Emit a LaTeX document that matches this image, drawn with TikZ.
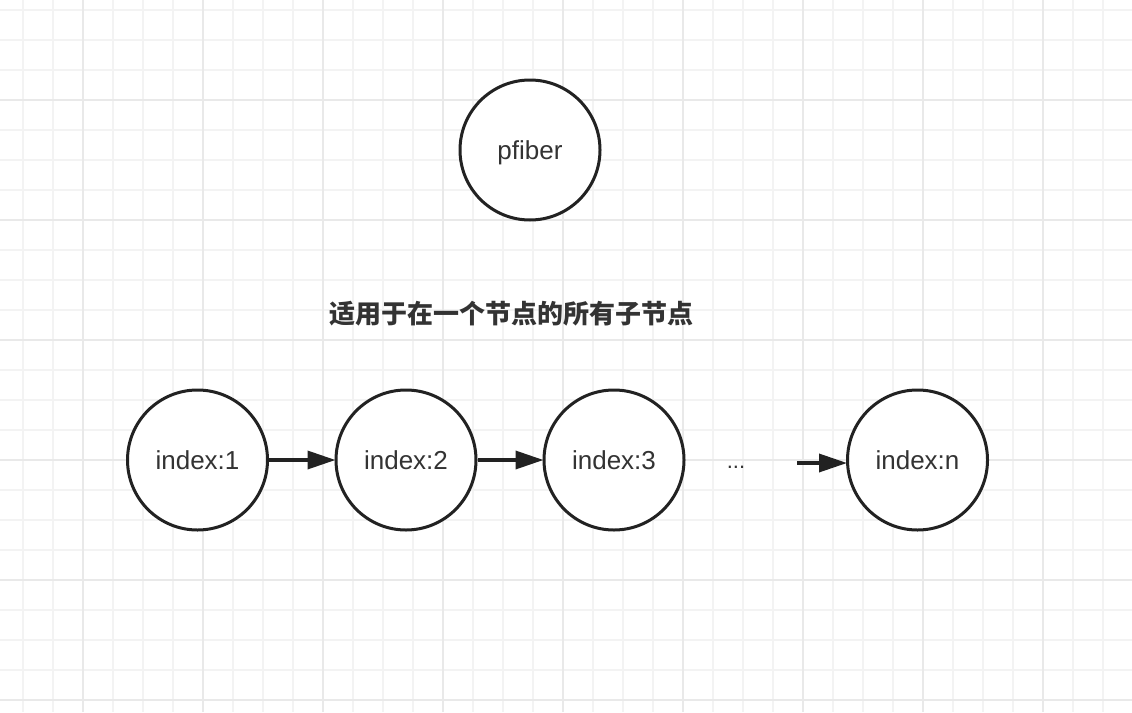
\documentclass[tikz,border=0pt]{standalone}
\usepackage{fontspec}
\setmainfont{Liberation Sans}
\newfontfamily\cjk{Noto Sans CJK SC}
\usetikzlibrary{arrows.meta}
\definecolor{strokec}{HTML}{222222}
\definecolor{textc}{HTML}{333333}
\definecolor{gridminor}{HTML}{F3F3F3}
\definecolor{gridmajor}{HTML}{E9E9E9}
\tikzset{
  ring/.style={circle, draw=strokec, line width=3pt, fill=white, minimum size=140pt, inner sep=0pt, text=textc, font=\fontsize{26}{30}\selectfont, text height=18.6pt, text depth=0pt},
  link/.style={draw=strokec, line width=3.5pt, -{Triangle[length=28pt,width=18pt]}, shorten >=-1pt},
  minorline/.style={gridminor, line width=1.6pt},
  majorline/.style={gridmajor, line width=1.6pt},
}
\begin{document}
\begin{tikzpicture}[x=1pt,y=-1pt]
\useasboundingbox (0,0) rectangle (1132,712);
\fill[white] (0,0) rectangle (1132,712);
% grid
\foreach \gx in {0,...,37} { \draw[minorline] (22.7+30*\gx,0) -- (22.7+30*\gx,712); }
\foreach \gy in {0,...,23} { \draw[minorline] (0,10+30*\gy) -- (1132,10+30*\gy); }
\foreach \gx in {0,...,8} { \draw[majorline] (82.7+120*\gx,0) -- (82.7+120*\gx,712); }
\foreach \gy in {0,...,5} { \draw[majorline] (0,100+120*\gy) -- (1132,100+120*\gy); }
% nodes
\node[ring] (p) at (530,150) {pfiber};
\node[text=textc, font=\cjk\bfseries\fontsize{26}{30}\selectfont] (title) at (511,314) {适用于在一个节点的所有子节点};
\node[ring] (a) at (197.5,460) {index:1};
\node[ring] (b) at (406,460) {index:2};
\node[ring] (c) at (614,460) {index:3};
\node[ring] (n) at (917.5,460) {index:n};
\node[text=textc, font=\fontsize{22}{26}\selectfont, anchor=base] (dots) at (736,468) {...};
\coordinate (d3) at (797,463);
% connectors
\draw[link] (a) -- (b);
\draw[link] (b) -- (c);
\draw[link] (d3) -- (d3 -| n.west);
\end{tikzpicture}
\end{document}
